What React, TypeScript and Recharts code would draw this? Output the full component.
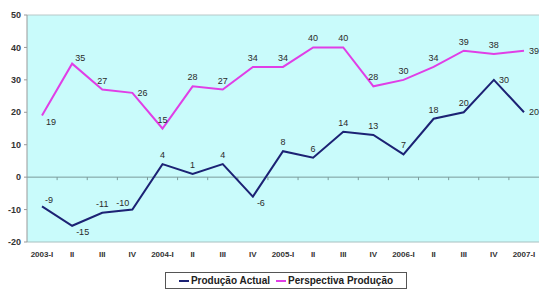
import React from 'react';
import { LineChart, Line, XAxis, YAxis, CartesianGrid, ReferenceLine, LabelList } from 'recharts';

const categories = ['2003-I', 'II', 'III', 'IV', '2004-I', 'II', 'III', 'IV', '2005-I', 'II', 'III', 'IV', '2006-I', 'II', 'III', 'IV', '2007-I'];
const producaoActual = [-9, -15, -11, -10, 4, 1, 4, -6, 8, 6, 14, 13, 7, 18, 20, 30, 20];
const perspectivaProducao = [19, 35, 27, 26, 15, 28, 27, 34, 34, 40, 40, 28, 30, 34, 39, 38, 39];
const yTicks = [-20, -10, 0, 10, 20, 30, 40, 50];

const actualPlacement = ['tr', 'br', 't', 'tl', 't', 't', 't', 'br', 't', 't', 't', 't', 't', 't', 't', 'r', 'r'];
const perspPlacement = ['br', 'tr', 't', 'r', 't', 't', 't', 't', 't', 't', 't', 't', 't', 't', 't', 't', 'r'];

const data = categories.map((c, i) => ({ cat: c, idx: i, actual: producaoActual[i], persp: perspectivaProducao[i] }));

const NAVY = '#1c2274';
const MAGENTA = '#e03ee6';
const FONT = '"Liberation Sans", Arial, sans-serif';

const makeLabel = (placement: string[]) => (props: any) => {
  const { x, y, value, index } = props;
  const p = placement[index] || 't';
  let dx = 0, dy = -6, anchor: 'start' | 'middle' | 'end' = 'middle';
  if (p === 'r') { dx = 5; dy = 3; anchor = 'start'; }
  if (p === 'tr') { dx = 3; dy = -3; anchor = 'start'; }
  if (p === 'br') { dx = 4; dy = 9; anchor = 'start'; }
  if (p === 'tl') { dx = -3; dy = -4; anchor = 'end'; }
  return (
    <text x={x + dx} y={y + dy} textAnchor={anchor} fontSize={9} fontFamily={FONT} fill="#2a2a2a">
      {value}
    </text>
  );
};

const ZeroLine = (props: any) => {
  const { x1, y1, x2 } = props;
  const n = categories.length;
  const step = (x2 - x1) / n;
  const ticks = [];
  for (let i = 1; i < n; i++) {
    const tx = x1 + step * i;
    ticks.push(<line key={i} x1={tx} x2={tx} y1={y1} y2={y1 + 3} stroke="#7a9a9a" strokeWidth={1} />);
  }
  return (
    <g>
      <line x1={x1} x2={x2} y1={y1} y2={y1} stroke="#7a9a9a" strokeWidth={1} />
      {ticks}
    </g>
  );
};

export default function App() {
  return (
    <div style={{ position: 'absolute', left: 0, top: 0, width: 542, height: 291, background: '#fff' }}>
      <LineChart width={542} height={291} data={data} margin={{ top: 15, right: 3, bottom: 29, left: 0 }}>
        <CartesianGrid horizontal={false} vertical={false} fill="#c9fbfb" />
        <ReferenceLine y={50} stroke="#b8c8c8" />
        <XAxis
          dataKey="cat"
          interval={0}
          height={20}
          padding={{ left: 15, right: 15 }}
          tickLine={false}
          axisLine={{ stroke: '#a8c0c0' }}
          tick={{ fontSize: 8, fontWeight: 'bold', fontFamily: FONT, fill: '#333' }}
          tickMargin={3}
        />
        <YAxis
          domain={[-20, 50]}
          ticks={yTicks}
          width={27}
          tickSize={3}
          tickLine={{ stroke: '#999' }}
          axisLine={{ stroke: '#999' }}
          tick={{ fontSize: 9, fontWeight: 'bold', fontFamily: FONT, fill: '#333' }}
          tickMargin={3}
        />
        <ReferenceLine y={0} shape={ZeroLine} />
        <Line type="linear" dataKey="persp" stroke={MAGENTA} strokeWidth={2} dot={false} isAnimationActive={false}>
          <LabelList dataKey="persp" content={makeLabel(perspPlacement)} />
        </Line>
        <Line type="linear" dataKey="actual" stroke={NAVY} strokeWidth={2} dot={false} isAnimationActive={false}>
          <LabelList dataKey="actual" content={makeLabel(actualPlacement)} />
        </Line>
      </LineChart>
      <div
        style={{
          position: 'absolute', left: 165, top: 272, width: 242, height: 17,
          border: '1px solid #555', boxSizing: 'border-box', display: 'flex', alignItems: 'center',
          justifyContent: 'center', gap: 6, fontFamily: FONT, fontWeight: 'bold', fontSize: 10, color: '#222', background: '#fff',
        }}
      >
        <span style={{ display: 'flex', alignItems: 'center' }}>
          <span style={{ display: 'inline-block', width: 10, height: 2, background: NAVY, marginRight: 2 }} />
          Produção Actual
        </span>
        <span style={{ display: 'flex', alignItems: 'center' }}>
          <span style={{ display: 'inline-block', width: 10, height: 2, background: MAGENTA, marginRight: 2 }} />
          Perspectiva Produção
        </span>
      </div>
    </div>
  );
}
